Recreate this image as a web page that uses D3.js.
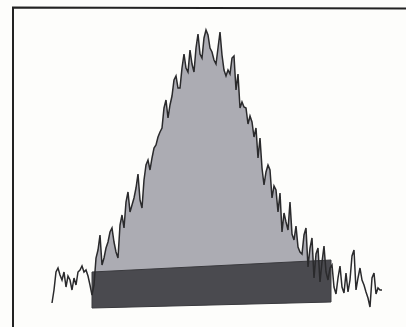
<!DOCTYPE html>
<html>
<head>
<meta charset="utf-8">
<script src="https://cdn.jsdelivr.net/npm/d3@7"></script>
<style>
  html, body { margin: 0; padding: 0; background: #fdfdfb; }
  svg { display: block; }
</style>
</head>
<body>
<svg id="chart" width="406" height="327"></svg>
<script>
// Spectrum counts per channel (channel 0..165)
const counts = [
  17, 30, 48, 52, 45, 40, 48, 33, 44, 40,
  30, 42, 35, 48, 50, 54, 48, 50, 44, 35,
  25, 35, 62, 70, 85, 55, 62, 72, 78, 88,
  92, 78, 68, 62, 95, 105, 92, 118, 128, 108,
  115, 122, 132, 146, 120, 112, 140, 155, 160, 150,
  162, 172, 175, 183, 188, 192, 212, 220, 202, 215,
  224, 240, 244, 232, 232, 252, 266, 252, 248, 270,
  256, 248, 272, 286, 266, 262, 282, 290, 285, 272,
  268, 260, 256, 272, 288, 265, 250, 244, 250, 246,
  262, 264, 230, 246, 212, 218, 213, 212, 196, 204,
  198, 183, 192, 162, 182, 152, 135, 148, 155, 150,
  122, 134, 130, 108, 127, 88, 107, 98, 90, 118,
  86, 80, 94, 73, 68, 66, 85, 92, 53, 72,
  82, 42, 66, 72, 38, 58, 74, 48, 40, 52,
  55, 33, 26, 42, 54, 33, 27, 47, 28, 40,
  64, 70, 30, 42, 52, 40, 35, 28, 22, 13,
  42, 47, 26, 32, 30, 30
];

// Integration region: start/end channel, baseline top and bottom
const regionChannels = [20, 139.5];
const regionTop = [48, 60];
const regionBottom = [12, 18];

const svg = d3.select("#chart");

const x = d3.scaleLinear().domain([0, counts.length - 1]).range([52, 382]);
const y = d3.scaleLinear().domain([0, 320]).range([320, 0]);

const lerp = (arr, c) => {
  const t = (c - regionChannels[0]) / (regionChannels[1] - regionChannels[0]);
  return arr[0] + (arr[1] - arr[0]) * t;
};

// Frame
svg.append("path")
  .attr("d", "M13,327 L13,7.5 L406,8.5")
  .attr("fill", "none")
  .attr("stroke", "#222")
  .attr("stroke-width", 2);

// Peak area above the baseline region
const peakArea = d3.area()
  .defined((d, i) => i >= regionChannels[0] && i <= regionChannels[1])
  .x((d, i) => x(i))
  .y0((d, i) => y(lerp(regionBottom, i)))
  .y1(d => y(d));

svg.append("path")
  .datum(counts)
  .attr("d", peakArea)
  .attr("fill", "#acacb3");

// Baseline trapezoid
const trap = [
  [regionChannels[0], regionTop[0]],
  [regionChannels[1], regionTop[1]],
  [regionChannels[1], regionBottom[1]],
  [regionChannels[0], regionBottom[0]]
];
svg.append("path")
  .attr("d", "M" + trap.map(p => [x(p[0]), y(p[1])].join(",")).join("L") + "Z")
  .attr("fill", "#4a4a4f")
  .attr("stroke", "#3a3a3e")
  .attr("stroke-width", 1);

// Spectrum trace
const trace = d3.line()
  .x((d, i) => x(i))
  .y(d => y(d));

svg.append("path")
  .datum(counts)
  .attr("d", trace)
  .attr("fill", "none")
  .attr("stroke", "#2a2a2c")
  .attr("stroke-width", 1.5)
  .attr("stroke-linejoin", "miter");
</script>
</body>
</html>
